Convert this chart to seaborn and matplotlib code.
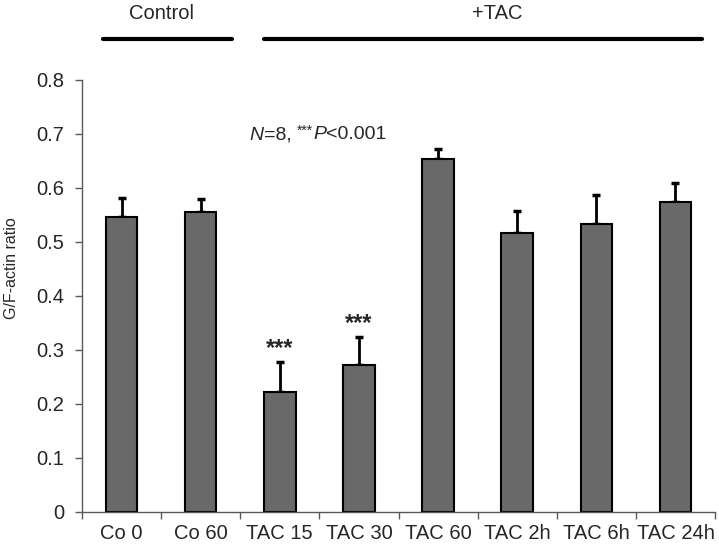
import matplotlib
matplotlib.use("Agg")
import matplotlib.pyplot as plt
import numpy as np
import pandas as pd
import seaborn as sns

# Datos
grupos = ["Co 0", "Co 60", "TAC 15", "TAC 30", "TAC 60", "TAC 2h", "TAC 6h", "TAC 24h"]
ratio = [0.546, 0.555, 0.221, 0.272, 0.653, 0.516, 0.534, 0.573]
error = [0.036, 0.025, 0.056, 0.052, 0.020, 0.041, 0.052, 0.036]
significativo = ["TAC 15", "TAC 30"]
control = ["Co 0", "Co 60"]
tac = ["TAC 15", "TAC 30", "TAC 60", "TAC 2h", "TAC 6h", "TAC 24h"]

df = pd.DataFrame({"grupo": grupos, "ratio": ratio, "error": error})

sns.set_style("ticks")
plt.rcParams["font.family"] = ["Liberation Sans", "DejaVu Sans"]

fig = plt.figure(figsize=(7.19, 5.44), dpi=100)
ax = fig.add_axes([0.114, 0.0594, 0.8805, 0.7936])

sns.barplot(data=df, x="grupo", y="ratio", order=grupos, color="#696969",
            saturation=1, width=0.4, edgecolor="black", linewidth=1.5,
            errorbar=None, ax=ax, zorder=2)

# Barras de error solo hacia arriba
pos = np.arange(len(grupos))
ax.errorbar(pos, df["ratio"], yerr=[np.zeros(len(grupos)), df["error"]],
            fmt="none", ecolor="black", elinewidth=2, capsize=3, capthick=2.5,
            zorder=1)

# Asteriscos de significancia
for g in significativo:
    i = grupos.index(g)
    ax.text(i, df.loc[i, "ratio"] + df.loc[i, "error"] + 0.004, "***",
            ha="center", va="bottom", fontsize=17, fontweight="bold")

# Nota N=8, ***P<0.001 armada por partes
t = ax.text(1.62, 0.698, "N", style="italic", ha="left", va="center", fontsize=14)
t = ax.annotate("=8, ", xy=(1, 0), xycoords=t, ha="left", va="bottom", fontsize=14)
t = ax.annotate("***", xy=(1, 0.35), xycoords=t, ha="left", va="bottom", fontsize=10)
t = ax.annotate("P", xy=(1, 0), xycoords=t, ha="left", va="bottom", fontsize=14,
                style="italic", xytext=(0, -0.35 * 10 * 1.2), textcoords="offset points")
ax.annotate("<0.001", xy=(1, 0), xycoords=t, ha="left", va="bottom", fontsize=14)

# Ejes
ax.set_xlim(-0.5, len(grupos) - 0.5)
ax.set_ylim(0, 0.8)
ax.set_yticks(np.arange(0, 0.81, 0.1))
ax.set_yticklabels(["0"] + [f"{v:.1f}" for v in np.arange(0.1, 0.81, 0.1)])
ax.set_xticks(pos)
ax.set_xticklabels(grupos)
ax.set_xticks(np.arange(-0.5, len(grupos)), minor=True)
ax.tick_params(axis="x", which="major", length=0, pad=9, labelsize=14.5)
ax.tick_params(axis="x", which="minor", length=5, width=1, color="#595959")
ax.tick_params(axis="y", length=5, width=1, color="#595959", pad=8, labelsize=14.5)
ax.set_xlabel("")
ax.set_ylabel("G/F-actin ratio", fontsize=11.5)
ax.yaxis.set_label_coords(-0.099, 0.565)
sns.despine(ax=ax)
for s in ["left", "bottom"]:
    ax.spines[s].set_color("#595959")
    ax.spines[s].set_linewidth(1)

# Líneas de grupo arriba
ax.plot([grupos.index(control[0]) - 0.24, grupos.index(control[-1]) + 0.39],
        [0.875, 0.875], color="black", lw=3, clip_on=False)
ax.plot([grupos.index(tac[0]) - 0.2, grupos.index(tac[-1]) + 0.33],
        [0.875, 0.875], color="black", lw=3, clip_on=False)
ax.text(0.51, 0.924, "Control", ha="center", va="center", fontsize=14.5)
ax.text(4.75, 0.924, "+TAC", ha="center", va="center", fontsize=14.5)

fig.savefig("out.png", dpi=100)
